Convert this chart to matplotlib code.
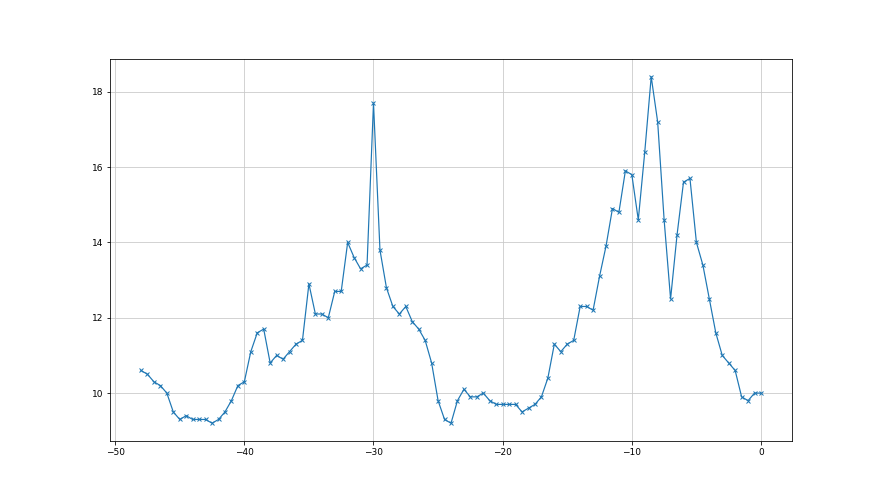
import numpy as np
import matplotlib
matplotlib.use("Agg")
import matplotlib.pyplot as plt

# x positions: -48 .. 0 in half steps
x = np.arange(-48, 0.01, 0.5)
y = [10.6, 10.5, 10.3, 10.2, 10.0, 9.5, 9.3, 9.4, 9.3, 9.3,
     9.3, 9.2, 9.3, 9.5, 9.8, 10.2, 10.3, 11.1, 11.6, 11.7,
     10.8, 11.0, 10.9, 11.1, 11.3, 11.4, 12.9, 12.1, 12.1, 12.0,
     12.7, 12.7, 14.0, 13.6, 13.3, 13.4, 17.7, 13.8, 12.8, 12.3,
     12.1, 12.3, 11.9, 11.7, 11.4, 10.8, 9.8, 9.3, 9.2, 9.8,
     10.1, 9.9, 9.9, 10.0, 9.8, 9.7, 9.7, 9.7, 9.7, 9.5,
     9.6, 9.7, 9.9, 10.4, 11.3, 11.1, 11.3, 11.4, 12.3, 12.3,
     12.2, 13.1, 13.9, 14.9, 14.8, 15.9, 15.8, 14.6, 16.4, 18.4,
     17.2, 14.6, 12.5, 14.2, 15.6, 15.7, 14.0, 13.4, 12.5, 11.6,
     11.0, 10.8, 10.6, 9.9, 9.8, 10.0, 10.0]

fig, ax = plt.subplots(figsize=(880 / 72, 495 / 72), dpi=72)
ax.plot(x, y, marker="x", markersize=4.5, linewidth=1.2, color="#1f77b4")
ax.grid(True, color="#c8c8c8")
ax.tick_params(labelsize=9)

plt.savefig("out.png", dpi=72)
